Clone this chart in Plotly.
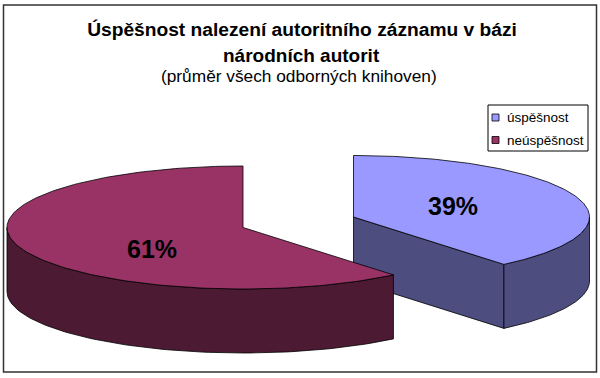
import numpy as np
import plotly.graph_objects as go

categories = ["úspěšnost", "neúspěšnost"]
values = [39, 61]
top_colors = ["#9999FF", "#993366"]
side_colors = ["#4D4D80", "#4D1A33"]

title_lines = ["Úspěšnost nalezení autoritního záznamu v bázi", "národních autorit"]
subtitle = "(průměr všech odborných knihoven)"

W, H = 600, 378
FONT = "Liberation Sans, Arial, sans-serif"
RX, RY, DEPTH = 236, 61.5, 64
centers = [(353.5, 217), (243, 227.5)]
label_pos = [(453, 206), (152, 249)]


def rim(cx, cy, a0, a1, dy=0.0, n=90):
    """Ellipse arc; angles in degrees clockwise from 12 o'clock."""
    t = np.radians(np.linspace(a0, a1, n))
    return cx + RX * np.sin(t), cy - RY * np.cos(t) + dy


fig = go.Figure()


def poly(x, y, fill):
    fig.add_trace(go.Scatter(x=list(x), y=list(y), mode="lines", fill="toself",
                             fillcolor=fill, line=dict(color="#000000", width=0.8),
                             hoverinfo="skip", showlegend=False))


total = sum(values)
start = 0.0
for val, top, side, (cx, cy) in zip(values, top_colors, side_colors, centers):
    end = start + 360.0 * val / total
    # straight cut face that looks toward the viewer
    if end < 180:
        ex, ey = rim(cx, cy, end, end, n=1)
        poly([cx, ex[0], ex[0], cx, cx], [cy, ey[0], ey[0] + DEPTH, cy + DEPTH, cy], side)
    # curved outer wall, only its front half is visible
    a0, a1 = max(start, 90), min(end, 270)
    if a1 > a0:
        xt, yt = rim(cx, cy, a0, a1)
        xb, yb = rim(cx, cy, a1, a0, dy=DEPTH)
        poly(np.r_[xt, xb, xt[0]], np.r_[yt, yb, yt[0]], side)
    # top face
    xs, ys = rim(cx, cy, start, end, n=160)
    poly(np.r_[cx, xs, cx], np.r_[cy, ys, cy], top)
    start = end

annotations = []


def text(x, y, s, size, bold=False, anchor="center"):
    annotations.append(dict(x=x, y=y, xref="x", yref="y", text=f"<b>{s}</b>" if bold else s,
                            showarrow=False, xanchor=anchor, yanchor="middle",
                            font=dict(family=FONT, size=size, color="#000000")))


for val, (lx, ly) in zip(values, label_pos):
    text(lx, ly, f"{val}%", 25, bold=True)

text(301, 55, title_lines[1], 19, bold=True)
text(299, 76, subtitle, 17.3)

shapes = [
    dict(type="rect", x0=3.5, x1=596.5, y0=5, y1=372, xref="x", yref="y",
         line=dict(color="#333333", width=1.5), layer="below"),
    dict(type="rect", x0=488, x1=588, y0=105, y1=151, xref="x", yref="y",
         line=dict(color="#000000", width=1), fillcolor="#FFFFFF"),
]
for i, (cat, col) in enumerate(zip(categories, top_colors)):
    yc = 117.5 + i * 22.5
    shapes.append(dict(type="rect", x0=492, x1=499, y0=yc - 3.5, y1=yc + 3.5, xref="x", yref="y",
                       line=dict(color="#000000", width=0.8), fillcolor=col))
    text(505, yc, cat, 13.5, anchor="left")

fig.update_layout(
    width=W, height=H, margin=dict(l=0, r=0, t=0, b=0),
    paper_bgcolor="#FFFFFF", plot_bgcolor="#FFFFFF", showlegend=False,
    title=dict(text=f"<b>{title_lines[0]}</b>", x=302 / W, xanchor="center", xref="paper",
               y=1 - 29 / H, yanchor="middle", font=dict(family=FONT, size=19.2, color="#000000")),
    xaxis=dict(range=[0, W], visible=False, fixedrange=True),
    yaxis=dict(range=[H, 0], visible=False, fixedrange=True),
    annotations=annotations, shapes=shapes,
)
fig.write_html("out.html", config={"displayModeBar": False},
               post_script="document.body.style.margin='0';document.body.style.overflow='hidden';")
